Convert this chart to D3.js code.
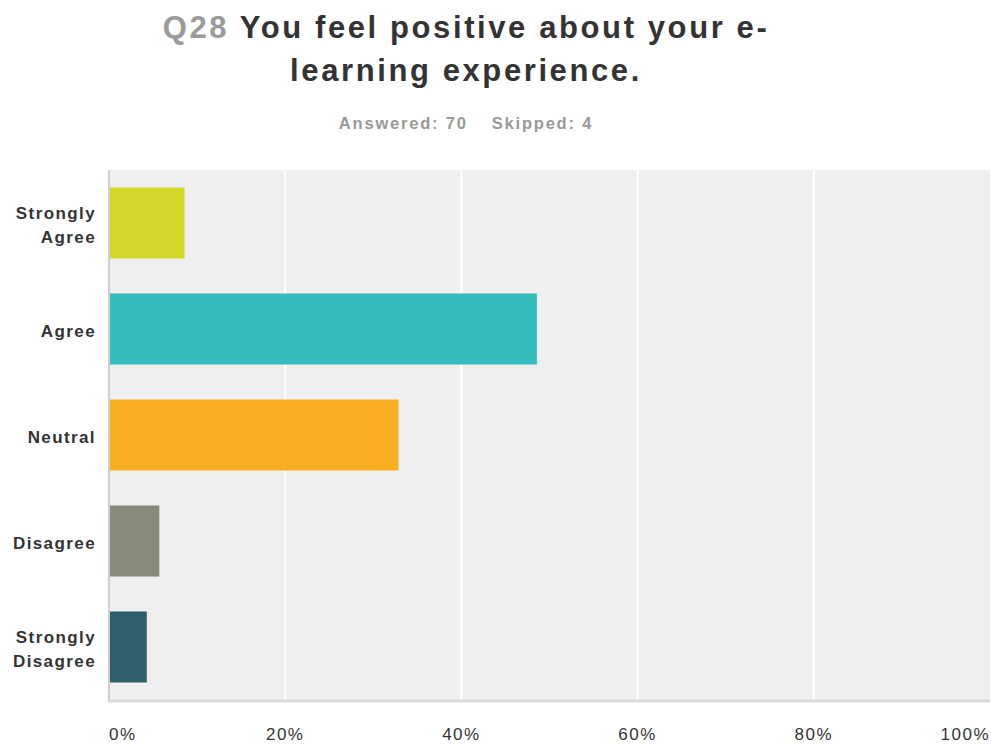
<!DOCTYPE html>
<html>
<head>
<meta charset="utf-8">
<script src="https://cdn.jsdelivr.net/npm/d3@7"></script>
<style>
  html, body { margin: 0; padding: 0; background: #fff; }
  svg { display: block; font-family: "Liberation Sans", Arial, Helvetica, sans-serif; }
</style>
</head>
<body>
<svg id="chart" width="991" height="747"></svg>
<script>
// Survey answers for Q28 (share of 70 respondents)
const categories = ["Strongly Agree", "Agree", "Neutral", "Disagree", "Strongly Disagree"];
const categoryLines = [["Strongly", "Agree"], ["Agree"], ["Neutral"], ["Disagree"], ["Strongly", "Disagree"]];
const percentages = [8.57, 48.57, 32.86, 5.71, 4.29];
const barColors = ["#D1D628", "#33BDBF", "#F7AF21", "#8A8A7B", "#2F5F6B"];
const tickValues = [0, 20, 40, 60, 80, 100];
const tickLabels = ["0%", "20%", "40%", "60%", "80%", "100%"];

const svg = d3.select("#chart");
const margin = { left: 109, right: 1, top: 170, bottom: 47 };
const W = 991, H = 747;
const plotW = W - margin.left - margin.right;
const plotH = H - margin.top - margin.bottom;

const x = d3.scaleLinear().domain([0, 100]).range([0, plotW]);
const y = d3.scaleBand().domain(categories).range([0, plotH]).paddingInner(0.33).paddingOuter(0.165);

// Title
const title = svg.append("text")
  .attr("x", 466).attr("y", 38)
  .attr("text-anchor", "middle")
  .attr("font-size", 31).attr("font-weight", "bold").attr("fill", "#333")
  .attr("letter-spacing", 2.6);
title.append("tspan").attr("fill", "#9a9a9a").text("Q28");
title.append("tspan").text(" You feel positive about your e-");
svg.append("text")
  .attr("x", 466).attr("y", 81)
  .attr("text-anchor", "middle")
  .attr("font-size", 31).attr("font-weight", "bold").attr("fill", "#333")
  .attr("letter-spacing", 2.6)
  .text("learning experience.");

// Subtitle
const sub = svg.append("text")
  .attr("x", 466).attr("y", 129)
  .attr("text-anchor", "middle")
  .attr("font-size", 16.5).attr("font-weight", "bold").attr("fill", "#999")
  .attr("letter-spacing", 1.8);
sub.append("tspan").text("Answered: 70");
sub.append("tspan").attr("dx", 24).text("Skipped: 4");

const g = svg.append("g").attr("transform", `translate(${margin.left},${margin.top})`);

// Plot background
g.append("rect").attr("x", 0).attr("y", 0).attr("width", plotW).attr("height", plotH).attr("fill", "#efefef");

// Vertical gridlines
g.selectAll("line.grid").data(tickValues.slice(1, -1)).enter().append("line")
  .attr("class", "grid")
  .attr("x1", d => x(d)).attr("x2", d => x(d))
  .attr("y1", 0).attr("y2", plotH)
  .attr("stroke", "#fff").attr("stroke-width", 2);

// Bars
g.selectAll("rect.bar").data(categories).enter().append("rect")
  .attr("class", "bar")
  .attr("x", 1)
  .attr("y", d => y(d))
  .attr("width", (d, i) => x(percentages[i]) - 1)
  .attr("height", y.bandwidth())
  .attr("fill", (d, i) => barColors[i]);

// Left axis line and bottom baseline
g.append("line").attr("x1", 0).attr("x2", 0).attr("y1", 0).attr("y2", plotH + 2)
  .attr("stroke", "#cfcfcf").attr("stroke-width", 2);
g.append("line").attr("x1", 0).attr("x2", plotW).attr("y1", plotH + 1).attr("y2", plotH + 1)
  .attr("stroke", "#d9d9d9").attr("stroke-width", 3);

// Category labels
const catG = g.append("g");
categories.forEach((c, i) => {
  const lines = categoryLines[i];
  const cy = y(c) + y.bandwidth() / 2;
  const lh = 24;
  const t = catG.append("text")
    .attr("text-anchor", "end")
    .attr("font-size", 17).attr("font-weight", "bold").attr("fill", "#333")
    .attr("letter-spacing", 1.4);
  lines.forEach((ln, j) => {
    t.append("tspan").attr("x", -13)
      .attr("y", cy + 8 + (j - (lines.length - 1) / 2) * lh)
      .text(ln);
  });
});

// X tick labels
g.selectAll("text.tick").data(tickValues).enter().append("text")
  .attr("class", "tick")
  .attr("x", d => x(d))
  .attr("y", plotH + 40)
  .attr("text-anchor", (d, i) => i === 0 ? "start" : (i === tickValues.length - 1 ? "end" : "middle"))
  .attr("font-size", 17).attr("fill", "#333")
  .attr("letter-spacing", 1.5)
  .text((d, i) => tickLabels[i]);
</script>
</body>
</html>
